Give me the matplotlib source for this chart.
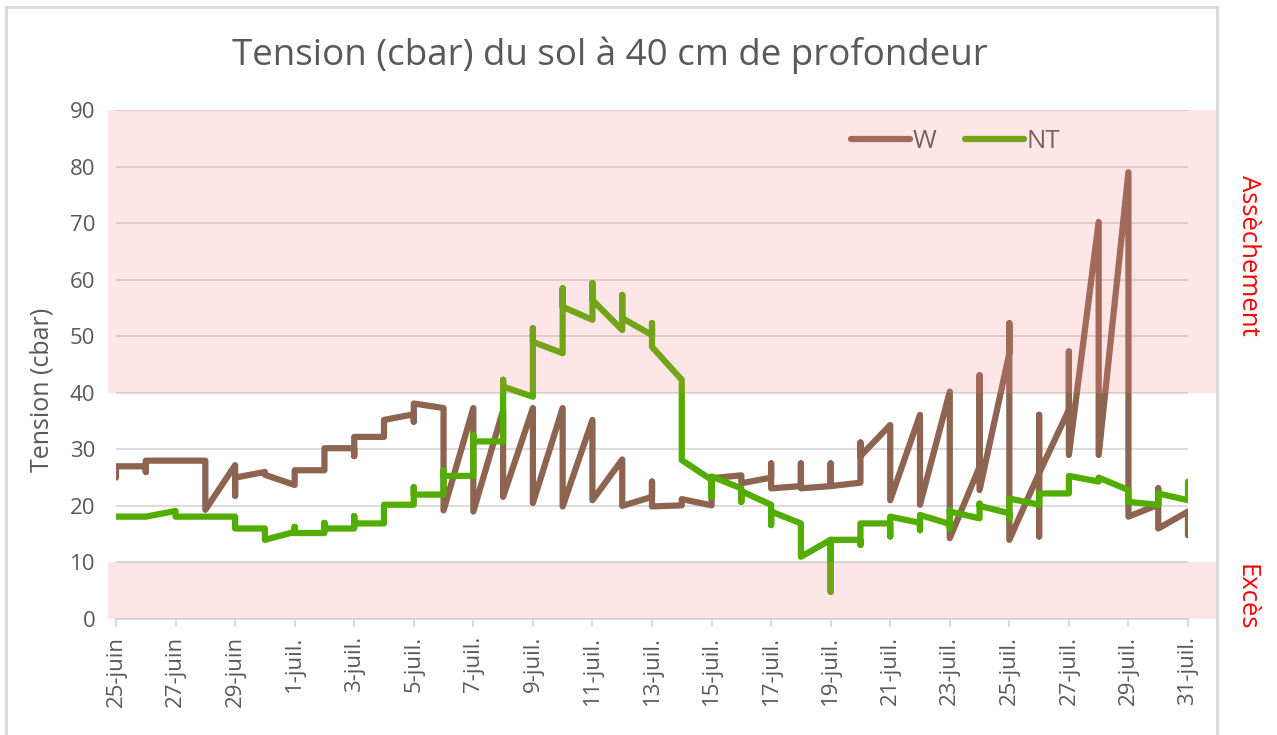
import numpy as np
import matplotlib
matplotlib.use('Agg')
import matplotlib.pyplot as plt
from matplotlib.patches import Rectangle
from matplotlib.transforms import blended_transform_factory

plt.rcParams['font.family'] = ['Open Sans', 'DejaVu Sans']

# jours depuis le 25 juin (plusieurs lectures par jour -> segments verticaux)
w_jours = [0, 0, 1, 1, 1, 3, 3, 4, 4, 4, 5, 5, 6, 6, 7, 7, 8, 8, 8, 9, 9, 10, 10, 10,
           11, 11, 12, 12, 13, 13, 14, 14, 15, 15, 16, 16, 17, 17, 18, 18, 18, 19, 19,
           20, 20, 21, 21, 22, 22, 22, 23, 23, 23, 24, 24, 24, 25, 25, 25, 26, 26,
           27, 27, 28, 28, 29, 29, 29, 30, 30, 30, 31, 31, 31, 31, 32, 32, 32,
           33, 33, 34, 34, 35, 35, 35, 36, 36]
w_vals = [25, 27, 27, 26, 28, 28, 19.3, 27.2, 21.8, 25, 26, 25.5, 23.7, 26.3, 26.3, 30.2,
          30.2, 28.8, 32.2, 32.2, 35.2, 36.2, 34.9, 38.1, 37.3, 19.2, 37.3, 19, 36.9, 21.6,
          37.3, 20.5, 37.3, 19.9, 35.2, 21, 28.2, 20, 21.6, 24.3, 19.9, 20.1, 21.2,
          20.1, 24.9, 25.4, 24, 25, 27.5, 23.1, 23.5, 27.5, 23.1, 23.5, 27.5, 23.5,
          24.1, 31.2, 28.8, 34.3, 21, 36.1, 20.2, 40.2, 14.3, 26.9, 43.1, 22.8,
          47, 52.3, 14, 25.8, 36.1, 14.6, 25.8, 37, 47.3, 29, 70.2, 29, 79, 18.1,
          20.2, 23.1, 16, 19, 14.8]

nt_jours = [0, 1, 2, 2, 3, 4, 4, 5, 5, 6, 6, 6, 7, 7, 7, 8, 8, 8, 9, 9, 10, 10, 10,
            11, 11, 11, 12, 12, 12, 13, 13, 13, 14, 14, 14, 15, 15, 15, 16, 16, 16,
            17, 17, 17, 18, 18, 18, 19, 19, 20, 20, 20, 21, 21, 21, 22, 22, 22,
            23, 23, 24, 24, 24, 25, 25, 25, 26, 26, 26, 27, 27, 27, 28, 28, 28, 28,
            29, 29, 29, 30, 30, 30, 31, 31, 32, 32, 33, 33, 34, 34, 35, 35, 36, 36]
nt_vals = [18.1, 18.1, 19.1, 18.1, 18.1, 18.1, 16, 16, 14, 15.4, 16.3, 15.2, 15.2, 17, 16,
           16, 18.2, 16.9, 16.9, 20.2, 20.2, 23.3, 22, 22, 26.3, 25.3, 25.3, 32.5, 31.4,
           31.4, 42.3, 41.1, 39.3, 51.4, 49, 47, 58.5, 55.2, 52.9, 59.4, 56.4,
           51.1, 57.3, 53.2, 50.2, 52.3, 48.1, 42.3, 28.1, 24.6, 21.6, 25.2, 23.1, 20.7, 22.6,
           20.2, 16.6, 19, 16.9, 11, 14, 4.8, 14, 14, 13.1, 16.9, 16.9, 14.6, 18.1,
           17, 15.7, 18.4, 16.8, 16, 19.3, 19, 17.8, 20.4, 20, 18.7, 17.8, 21.3,
           20.2, 22.2, 22.2, 25.3, 24.3, 25, 22.8, 20.7, 20.2, 22.2, 21, 24.3]

tick_jours = list(range(0, 37, 2))
tick_labels = ['25-juin', '27-juin', '29-juin', '1-juil.', '3-juil.', '5-juil.', '7-juil.',
               '9-juil.', '11-juil.', '13-juil.', '15-juil.', '17-juil.', '19-juil.',
               '21-juil.', '23-juil.', '25-juil.', '27-juil.', '29-juil.', '31-juil.']

gris = '#595959'
fig = plt.figure(figsize=(12.77, 7.35), dpi=100)
ax = fig.add_axes([116 / 1277, 116 / 735, 1072 / 1277, 509 / 735])

ax.plot(w_jours, w_vals, color='#8C6450', lw=4.5, label='W', solid_joinstyle='round',
        solid_capstyle='round', zorder=3)
ax.plot(nt_jours, nt_vals, color='#52AD00', lw=4.5, label='NT', solid_joinstyle='round',
        solid_capstyle='round', zorder=3)

ax.set_xlim(0, 36)
ax.set_ylim(0, 90)
ax.set_yticks(range(0, 91, 10))
ax.set_xticks(tick_jours)
ax.set_xticklabels(tick_labels, rotation=90)
ax.grid(axis='y', color='#D9D9D9', lw=1.3)
ax.set_axisbelow(True)
for s in ['top', 'right', 'left']:
    ax.spines[s].set_visible(False)
ax.spines['bottom'].set_color('#D9D9D9')
ax.spines['bottom'].set_linewidth(1.3)
ax.tick_params(axis='y', length=0, pad=15, labelsize=16, labelcolor=gris)
ax.tick_params(axis='x', length=6, width=1.3, color='#D9D9D9', pad=6, labelsize=16,
               labelcolor=gris)

fig.text(42 / 1277, 1 - 390 / 735, 'Tension (cbar)', rotation=90, fontsize=18,
         color=gris, ha='center', va='center')
fig.text(610 / 1277, 1 - 55 / 735, 'Tension (cbar) du sol à 40 cm de profondeur',
         fontsize=26.5, color=gris, ha='center', va='center')

leg = ax.legend(loc='center', bbox_to_anchor=(0.783, 0.939), ncol=2, frameon=False,
                fontsize=18.5, handlelength=2.3, handletextpad=0.1, columnspacing=1.1,
                labelcolor=gris)

# zones d'assèchement et d'excès (par-dessus les courbes)
tr = blended_transform_factory(ax.transAxes, ax.transData)
x0 = (108 - 116) / 1072
x1 = (1217 - 116) / 1072
for bas, haut in [(40, 90), (0, 10)]:
    ax.add_patch(Rectangle((x0, bas), x1 - x0, haut - bas, transform=tr, clip_on=False,
                           facecolor='#FF8484', alpha=0.2, lw=0, zorder=10))

fig.text(1248 / 1277, 1 - 255 / 735, 'Assèchement', rotation=-90, color='red',
         fontsize=18.5, ha='center', va='center')
fig.text(1246 / 1277, 1 - 597 / 735, 'Excès', rotation=-90, color='red',
         fontsize=18.5, ha='center', va='center')

# cadre du graphique
fig.patches.append(Rectangle((6 / 1277, -0.02), 1211 / 1277, 1.02 - 7 / 735,
                             transform=fig.transFigure, fill=False,
                             edgecolor='#D9D9D9', lw=2))

fig.savefig('out.png', dpi=100)
